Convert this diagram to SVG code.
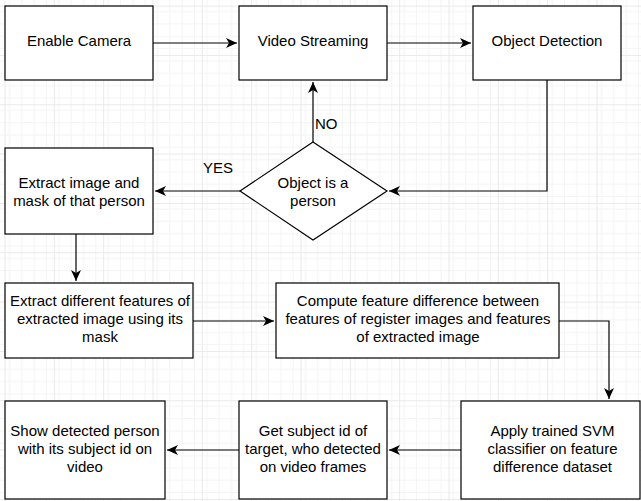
<svg xmlns="http://www.w3.org/2000/svg" width="641" height="501" viewBox="0 0 641 501">
<defs>
<pattern id="minor" patternUnits="userSpaceOnUse" x="4.5" y="5.6" width="12.333" height="12.333">
<path d="M0,0.5 H12.333 M0.5,0 V12.333" fill="none" stroke="#f3f3f3" stroke-width="1"/>
</pattern>
<pattern id="major" patternUnits="userSpaceOnUse" x="4.5" y="5.6" width="49.333" height="49.333">
<rect width="49.333" height="49.333" fill="url(#minor)"/>
<path d="M0,0.5 H49.333 M0.5,0 V49.333" fill="none" stroke="#e9e9e9" stroke-width="1"/>
</pattern>
<marker id="arr" markerUnits="userSpaceOnUse" viewBox="-12 -6 13 12" refX="0" refY="0" markerWidth="13" markerHeight="12" orient="auto">
<path d="M0,0 L-11,-5 L-8,0 L-11,5 Z" fill="#000"/>
</marker>
</defs>
<style>
.box{fill:#fff;stroke:#000;stroke-width:1.2}
.t{font-family:"Liberation Sans",Arial,Helvetica,sans-serif;font-size:15px;fill:#000;text-anchor:middle}
.l{font-family:"Liberation Sans",Arial,Helvetica,sans-serif;font-size:15px;fill:#000}
.c{fill:none;stroke:#000;stroke-width:1.2}
</style>
<rect width="641" height="501" fill="#fff"/>
<rect width="641" height="501" fill="url(#major)"/>

<g id="connectors">
<path class="c" d="M153,43 H237" marker-end="url(#arr)"/>
<path class="c" d="M387,43 H471" marker-end="url(#arr)"/>
<path class="c" d="M547,80 V191 H389" marker-end="url(#arr)"/>
<path class="c" d="M313,142 V82" marker-end="url(#arr)"/>
<path class="c" d="M240,191 H155" marker-end="url(#arr)"/>
<path class="c" d="M76,234 V281" marker-end="url(#arr)"/>
<path class="c" d="M193,321 H274" marker-end="url(#arr)"/>
<path class="c" d="M559,321 H609 V399" marker-end="url(#arr)"/>
<path class="c" d="M461,450 H389" marker-end="url(#arr)"/>
<path class="c" d="M239,450 H167" marker-end="url(#arr)"/>
<text class="l" x="315" y="129">NO</text>
<text class="l" x="203" y="173">YES</text>
</g>

<g id="enable-camera">
<rect class="box" x="5" y="6" width="148" height="74"/>
<text class="t" x="79" y="46">Enable Camera</text>
</g>
<g id="video-streaming">
<rect class="box" x="239" y="6" width="148" height="74"/>
<text class="t" x="313" y="46">Video Streaming</text>
</g>
<g id="object-detection">
<rect class="box" x="473" y="6" width="148" height="74"/>
<text class="t" x="547" y="46">Object Detection</text>
</g>
<g id="decision">
<polygon class="box" points="313,142 387,191 313,240 240,191"/>
<text class="t" x="313" y="188">Object is a</text>
<text class="t" x="313" y="206">person</text>
</g>
<g id="extract-image">
<rect class="box" x="5" y="148" width="148" height="86"/>
<text class="t" x="79" y="188">Extract image and</text>
<text class="t" x="79" y="206">mask of that person</text>
</g>
<g id="extract-features">
<rect class="box" x="5" y="283" width="188" height="75"/>
<text class="t" x="100" y="306">Extract different features of</text>
<text class="t" x="100" y="324">extracted image using its</text>
<text class="t" x="100" y="342">mask</text>
</g>
<g id="compute-difference">
<rect class="box" x="276" y="283" width="283" height="75"/>
<text class="t" x="418" y="306">Compute feature difference between</text>
<text class="t" x="418" y="324">features of register images and features</text>
<text class="t" x="418" y="342">of extracted image</text>
</g>
<g id="apply-svm">
<rect class="box" x="461" y="401" width="179" height="98"/>
<text class="t" x="552.5" y="435.5">Apply trained SVM</text>
<text class="t" x="552.5" y="453.5">classifier on feature</text>
<text class="t" x="552.5" y="471.5">difference dataset</text>
</g>
<g id="get-subject">
<rect class="box" x="239" y="401" width="148" height="98"/>
<text class="t" x="313" y="435.5">Get subject id of</text>
<text class="t" x="313" y="453.5">target, who detected</text>
<text class="t" x="313" y="471.5">on video frames</text>
</g>
<g id="show-person">
<rect class="box" x="5" y="401" width="160" height="98"/>
<text class="t" x="85" y="435.5">Show detected person</text>
<text class="t" x="85" y="453.5">with its subject id on</text>
<text class="t" x="85" y="471.5">video</text>
</g>
</svg>
